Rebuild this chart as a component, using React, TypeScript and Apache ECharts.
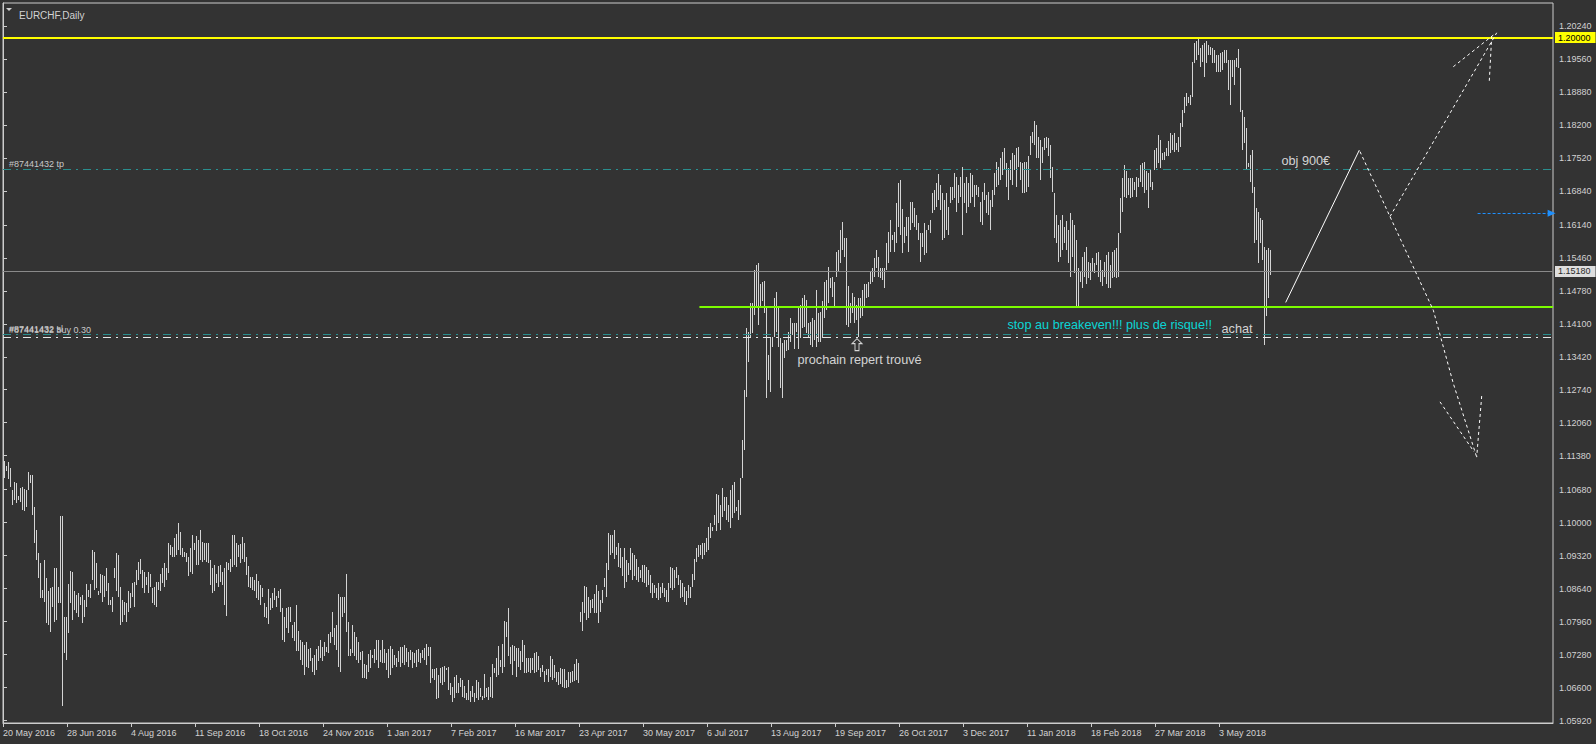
import React, { useEffect, useRef } from "react";
import * as echarts from "echarts";

// ---------- DATA ----------
// x-axis date labels, one every 32 daily bars
const dateTicks = [
  "20 May 2016", "28 Jun 2016", "4 Aug 2016", "11 Sep 2016", "18 Oct 2016", "24 Nov 2016",
  "1 Jan 2017", "7 Feb 2017", "16 Mar 2017", "23 Apr 2017", "30 May 2017", "6 Jul 2017",
  "13 Aug 2017", "19 Sep 2017", "26 Oct 2017", "3 Dec 2017", "11 Jan 2018", "18 Feb 2018",
  "27 Mar 2018", "3 May 2018",
];
const barsPerDateTick = 32;
const visibleSlots = 775;

// right price-scale labels
const priceTicks = [
  1.0592, 1.066, 1.0728, 1.0796, 1.0864, 1.0932, 1.1, 1.1068, 1.1138, 1.1206, 1.1274,
  1.1342, 1.141, 1.1478, 1.1546, 1.1614, 1.1684, 1.1752, 1.182, 1.1888, 1.1956, 1.2024,
];
const priceMin = 1.058685;
const priceMax = 1.207138;

// daily bars [high, low], May 2016 -> Dec 2016
const barsMay16 = [
  [1.1128,1.1093],[1.1117,1.1106],[1.1124,1.1090],[1.1113,1.1074],[1.1067,1.1036],[1.1084,1.1047],
  [1.1082,1.1041],[1.1055,1.1047],[1.1071,1.1043],[1.1074,1.1026],[1.1069,1.1023],[1.1067,1.1033],
  [1.1104,1.1067],[1.1098,1.1082],[1.1098,1.1016],[1.1033,1.0957],[1.0985,1.0923],[1.0937,1.0886],
  [1.0916,1.0845],[1.0861,1.0845],[1.0923,1.0837],[1.0886,1.0793],[1.0858,1.0789],[1.0865,1.0775],
  [1.0868,1.0827],[1.0906,1.0796],[1.0906,1.0799],[1.0868,1.0834],[1.1014,1.0834],[1.1014,1.0622],
  [1.0806,1.0731],[1.0806,1.0717],[1.0874,1.0772],[1.0901,1.0834],[1.0899,1.0799],[1.0860,1.0820],
  [1.0851,1.0814],[1.0855,1.0806],[1.0847,1.0830],[1.0851,1.0793],[1.0841,1.0806],[1.0874,1.0827],
  [1.0861,1.0847],[1.0874,1.0845],[1.0944,1.0882],[1.0940,1.0861],[1.0916,1.0865],[1.0858,1.0851],
  [1.0894,1.0854],[1.0892,1.0837],[1.0890,1.0847],[1.0906,1.0858],[1.0875,1.0830],[1.0841,1.0830],
  [1.0847,1.0816],[1.0906,1.0885],[1.0938,1.0858],[1.0933,1.0847],[1.0868,1.0788],[1.0841,1.0796],
  [1.0837,1.0810],[1.0835,1.0795],[1.0858,1.0816],[1.0854,1.0823],[1.0875,1.0847],[1.0878,1.0827],
  [1.0902,1.0871],[1.0919,1.0882],[1.0924,1.0895],[1.0902,1.0865],[1.0899,1.0854],[1.0888,1.0871],
  [1.0899,1.0854],[1.0895,1.0868],[1.0865,1.0834],[1.0868,1.0830],[1.0878,1.0827],[1.0878,1.0861],
  [1.0895,1.0858],[1.0906,1.0875],[1.0916,1.0868],[1.0906,1.0882],[1.0957,1.0897],[1.0954,1.0933],
  [1.0950,1.0930],[1.0968,1.0930],[1.0976,1.0933],[1.0999,1.0944],[1.0981,1.0933],[1.0947,1.0930],
  [1.0940,1.0930],[1.0937,1.0919],[1.0930,1.0889],[1.0947,1.0899],[1.0975,1.0895],[1.0957,1.0944],
  [1.0972,1.0913],[1.0964,1.0913],[1.0985,1.0923],[1.0961,1.0919],[1.0957,1.0923],[1.0957,1.0919],
  [1.0957,1.0916],[1.0923,1.0871],[1.0906,1.0854],[1.0913,1.0858],[1.0895,1.0875],[1.0911,1.0868],
  [1.0913,1.0878],[1.0899,1.0871],[1.0906,1.0830],[1.0919,1.0807],[1.0916,1.0902],[1.0926,1.0899],
  [1.0975,1.0909],[1.0975,1.0913],[1.0957,1.0909],[1.0954,1.0930],[1.0956,1.0916],[1.0971,1.0926],
  [1.0957,1.0919],[1.0930,1.0892],[1.0911,1.0868],[1.0888,1.0865],[1.0887,1.0861],[1.0882,1.0858],
  [1.0894,1.0844],[1.0880,1.0841],[1.0871,1.0830],[1.0865,1.0847],[1.0834,1.0806],[1.0827,1.0803],
  [1.0863,1.0792],[1.0844,1.0820],[1.0854,1.0823],[1.0865,1.0841],[1.0849,1.0827],[1.0858,1.0844],
  [1.0863,1.0816],[1.0823,1.0758],[1.0806,1.0753],[1.0823,1.0782],[1.0825,1.0772],[1.0827,1.0796],
  [1.0789,1.0762],[1.0796,1.0755],[1.0830,1.0736],
];

// daily bars [high, low], Dec 2016 -> Apr 2017 (before the election gap)
const barsDec16 = [
  [1.0777,1.0736],[1.0759,1.0717],[1.0754,1.0706],[1.0748,1.0686],[1.0754,1.0703],[1.0739,1.0700],
  [1.0741,1.0714],[1.0720,1.0693],[1.0727,1.0686],[1.0739,1.0696],[1.0746,1.0714],[1.0758,1.0720],
  [1.0744,1.0714],[1.0754,1.0724],[1.0744,1.0734],[1.0770,1.0731],[1.0775,1.0751],[1.0816,1.0765],
  [1.0782,1.0748],[1.0789,1.0737],[1.0853,1.0703],[1.0847,1.0693],[1.0847,1.0806],[1.0847,1.0813],
  [1.0895,1.0775],[1.0796,1.0724],[1.0739,1.0725],[1.0789,1.0731],[1.0775,1.0724],[1.0765,1.0717],
  [1.0754,1.0710],[1.0734,1.0717],[1.0736,1.0679],[1.0709,1.0679],[1.0707,1.0677],[1.0729,1.0693],
  [1.0737,1.0700],[1.0727,1.0720],[1.0739,1.0710],[1.0759,1.0717],[1.0759,1.0700],[1.0737,1.0713],
  [1.0759,1.0710],[1.0739,1.0710],[1.0731,1.0696],[1.0739,1.0679],[1.0746,1.0686],[1.0739,1.0700],
  [1.0727,1.0706],[1.0720,1.0703],[1.0736,1.0713],[1.0744,1.0703],[1.0743,1.0710],[1.0748,1.0706],
  [1.0741,1.0713],[1.0734,1.0703],[1.0737,1.0717],[1.0734,1.0700],[1.0731,1.0710],[1.0737,1.0703],
  [1.0739,1.0713],[1.0731,1.0710],[1.0737,1.0720],[1.0741,1.0717],[1.0750,1.0706],[1.0743,1.0724],
  [1.0743,1.0669],[1.0698,1.0679],[1.0698,1.0676],[1.0700,1.0636],[1.0686,1.0638],[1.0700,1.0669],
  [1.0703,1.0665],[1.0704,1.0672],[1.0700,1.0696],[1.0703,1.0655],[1.0669,1.0645],[1.0662,1.0631],
  [1.0682,1.0638],[1.0686,1.0648],[1.0669,1.0648],[1.0679,1.0662],[1.0676,1.0641],[1.0663,1.0638],
  [1.0648,1.0634],[1.0676,1.0634],[1.0653,1.0631],[1.0663,1.0641],[1.0648,1.0631],[1.0676,1.0638],
  [1.0672,1.0634],[1.0658,1.0641],[1.0643,1.0634],[1.0688,1.0638],[1.0658,1.0641],[1.0662,1.0634],
  [1.0682,1.0641],[1.0709,1.0638],[1.0701,1.0690],[1.0720,1.0682],[1.0746,1.0686],[1.0717,1.0703],
  [1.0750,1.0689],[1.0798,1.0702],[1.0796,1.0765],[1.0823,1.0724],[1.0744,1.0709],[1.0748,1.0686],
  [1.0746,1.0714],[1.0741,1.0682],[1.0741,1.0703],[1.0736,1.0696],[1.0759,1.0713],[1.0748,1.0689],
  [1.0720,1.0689],[1.0720,1.0693],[1.0720,1.0689],[1.0720,1.0696],[1.0731,1.0689],[1.0734,1.0693],
  [1.0725,1.0696],[1.0700,1.0682],[1.0707,1.0693],[1.0695,1.0672],[1.0698,1.0686],[1.0698,1.0672],
  [1.0725,1.0682],[1.0718,1.0676],[1.0707,1.0679],[1.0693,1.0672],[1.0693,1.0665],[1.0700,1.0667],
  [1.0698,1.0662],[1.0698,1.0658],[1.0676,1.0658],[1.0693,1.0661],[1.0693,1.0669],[1.0695,1.0672],
  [1.0709,1.0674],[1.0718,1.0676],[1.0711,1.0669],
];

// daily bars [high, low], Apr 2017 -> Nov 2017
const barsApr17 = [
  [1.0816,1.0796],[1.0836,1.0777],[1.0869,1.0813],[1.0868,1.0799],[1.0847,1.0803],[1.0841,1.0813],
  [1.0842,1.0823],[1.0853,1.0813],[1.0871,1.0813],[1.0858,1.0793],[1.0841,1.0816],
  [1.0861,1.0834],[1.0885,1.0868],[1.0916,1.0847],[1.0978,1.0902],[1.0975,1.0933],[1.0975,1.0937],
  [1.0985,1.0926],[1.0950,1.0933],[1.0957,1.0909],[1.0947,1.0906],[1.0930,1.0889],[1.0947,1.0865],
  [1.0923,1.0878],[1.0916,1.0892],[1.0947,1.0902],[1.0937,1.0882],[1.0933,1.0889],[1.0926,1.0882],
  [1.0909,1.0878],[1.0902,1.0885],[1.0913,1.0878],[1.0913,1.0875],[1.0909,1.0868],[1.0902,1.0871],
  [1.0892,1.0854],[1.0875,1.0844],[1.0871,1.0854],[1.0865,1.0844],[1.0875,1.0841],[1.0868,1.0844],
  [1.0875,1.0854],[1.0865,1.0847],[1.0861,1.0837],[1.0875,1.0837],[1.0909,1.0865],[1.0906,1.0861],
  [1.0902,1.0865],[1.0909,1.0885],[1.0892,1.0871],[1.0882,1.0844],[1.0875,1.0847],[1.0868,1.0837],
  [1.0858,1.0830],[1.0871,1.0844],[1.0868,1.0844],[1.0895,1.0868],[1.0926,1.0882],[1.0947,1.0919],
  [1.0954,1.0930],[1.0954,1.0933],[1.0957,1.0926],[1.0957,1.0933],[1.0968,1.0940],[1.0992,1.0944],
  [1.0999,1.0968],[1.0992,1.0982],[1.1016,1.0995],[1.1060,1.0982],[1.1057,1.0999],[1.1036,1.0985],
  [1.1071,1.1012],[1.1053,1.1023],[1.1053,1.1006],[1.1036,1.1002],[1.1067,1.0988],[1.1078,1.1009],
  [1.1084,1.1019],[1.1033,1.1023],[1.1047,1.1006],[1.1091,1.1016],[1.1170,1.1091],[1.1274,1.1150],
  [1.1401,1.1260],[1.1394,1.1332],[1.1452,1.1380],[1.1452,1.1390],[1.1521,1.1428],[1.1531,1.1445],
  [1.1535,1.1408],[1.1493,1.1445],[1.1497,1.1456],[1.1498,1.1432],[1.1442,1.1256],[1.1346,1.1294],
  [1.1383,1.1270],[1.1383,1.1363],[1.1463,1.1383],[1.1476,1.1394],[1.1442,1.1363],[1.1380,1.1277],
  [1.1370,1.1256],[1.1377,1.1339],[1.1377,1.1353],[1.1394,1.1356],[1.1421,1.1373],[1.1411,1.1387],
  [1.1411,1.1359],[1.1411,1.1394],[1.1445,1.1359],[1.1449,1.1380],[1.1463,1.1401],[1.1469,1.1404],
  [1.1459,1.1390],[1.1411,1.1383],[1.1414,1.1366],[1.1421,1.1363],[1.1418,1.1377],[1.1480,1.1363],
  [1.1432,1.1373],[1.1435,1.1373],[1.1456,1.1380],[1.1497,1.1421],[1.1500,1.1439],[1.1528,1.1452],
  [1.1504,1.1483],[1.1507,1.1466],[1.1497,1.1445],[1.1559,1.1507],[1.1562,1.1517],[1.1603,1.1535],
  [1.1620,1.1562],[1.1586,1.1548],[1.1586,1.1408],[1.1487,1.1404],[1.1452,1.1411],[1.1473,1.1432],
  [1.1466,1.1411],[1.1449,1.1418],[1.1463,1.1383],[1.1463,1.1421],[1.1480,1.1425],[1.1493,1.1445],
  [1.1493,1.1463],[1.1497,1.1466],[1.1517,1.1493],[1.1524,1.1497],[1.1545,1.1507],[1.1562,1.1524],
  [1.1548,1.1507],[1.1524,1.1504],[1.1524,1.1500],[1.1524,1.1483],[1.1576,1.1521],[1.1600,1.1535],
  [1.1624,1.1559],
];

// daily bars [high, low], Nov 2017 -> Jun 2018
const barsNov17 = [
  [1.1593,1.1583],[1.1600,1.1559],[1.1658,1.1576],[1.1700,1.1610],[1.1706,1.1593],[1.1646,1.1555],
  [1.1610,1.1576],[1.1631,1.1590],[1.1631,1.1559],[1.1662,1.1603],[1.1662,1.1617],[1.1648,1.1610],
  [1.1634,1.1603],[1.1617,1.1583],[1.1597,1.1538],[1.1597,1.1569],[1.1617,1.1552],[1.1603,1.1555],
  [1.1614,1.1603],[1.1624,1.1597],[1.1679,1.1638],[1.1686,1.1645],[1.1700,1.1651],[1.1719,1.1665],
  [1.1696,1.1645],[1.1679,1.1583],[1.1665,1.1586],[1.1679,1.1603],[1.1651,1.1593],[1.1693,1.1658],
  [1.1693,1.1665],[1.1720,1.1669],[1.1713,1.1641],[1.1696,1.1658],[1.1713,1.1672],[1.1734,1.1593],
  [1.1700,1.1658],[1.1713,1.1638],[1.1700,1.1651],[1.1720,1.1658],[1.1717,1.1672],[1.1696,1.1651],
  [1.1696,1.1676],[1.1693,1.1672],[1.1662,1.1620],[1.1682,1.1614],[1.1700,1.1665],[1.1676,1.1638],
  [1.1682,1.1634],[1.1665,1.1603],[1.1686,1.1651],[1.1720,1.1676],[1.1744,1.1693],[1.1734,1.1696],
  [1.1751,1.1706],[1.1765,1.1717],[1.1772,1.1727],[1.1741,1.1693],[1.1731,1.1665],[1.1748,1.1706],
  [1.1762,1.1696],[1.1758,1.1727],[1.1772,1.1693],[1.1775,1.1734],[1.1744,1.1706],[1.1741,1.1679],
  [1.1744,1.1679],[1.1744,1.1682],[1.1755,1.1693],[1.1797,1.1758],[1.1806,1.1782],[1.1829,1.1779],
  [1.1820,1.1751],[1.1796,1.1751],[1.1789,1.1706],[1.1775,1.1741],[1.1793,1.1768],[1.1796,1.1772],
  [1.1793,1.1755],[1.1779,1.1710],[1.1734,1.1682],[1.1679,1.1586],[1.1634,1.1576],[1.1614,1.1538],
  [1.1624,1.1548],[1.1634,1.1562],[1.1610,1.1576],[1.1621,1.1562],[1.1603,1.1535],[1.1638,1.1507],
  [1.1624,1.1548],[1.1614,1.1514],[1.1583,1.1445],[1.1524,1.1445],[1.1517,1.1497],[1.1548,1.1483],
  [1.1559,1.1507],[1.1569,1.1493],[1.1538,1.1504],[1.1535,1.1500],[1.1545,1.1517],[1.1535,1.1514],
  [1.1555,1.1531],[1.1559,1.1507],[1.1542,1.1497],[1.1521,1.1487],[1.1538,1.1507],[1.1552,1.1493],
  [1.1559,1.1483],[1.1531,1.1483],[1.1559,1.1504],[1.1562,1.1507],[1.1566,1.1504],[1.1597,1.1507],
  [1.1669,1.1597],[1.1710,1.1641],[1.1737,1.1672],[1.1724,1.1669],[1.1710,1.1676],[1.1710,1.1669],
  [1.1710,1.1672],[1.1703,1.1686],[1.1713,1.1672],[1.1710,1.1693],[1.1737,1.1703],[1.1741,1.1693],
  [1.1744,1.1679],[1.1724,1.1686],[1.1720,1.1648],[1.1727,1.1693],[1.1703,1.1686],[1.1768,1.1727],
  [1.1772,1.1731],[1.1799,1.1741],[1.1789,1.1731],[1.1762,1.1748],[1.1765,1.1748],[1.1772,1.1755],
  [1.1786,1.1755],[1.1803,1.1762],[1.1799,1.1768],[1.1803,1.1765],[1.1782,1.1768],[1.1796,1.1765],
  [1.1823,1.1775],[1.1851,1.1816],[1.1878,1.1844],[1.1885,1.1858],[1.1878,1.1865],[1.1882,1.1861],
  [1.1950,1.1878],[1.1988,1.1947],[1.1992,1.1954],[1.2002,1.1964],[1.1978,1.1940],[1.1985,1.1950],
  [1.1988,1.1919],[1.1992,1.1947],[1.1985,1.1964],[1.1981,1.1964],[1.1978,1.1947],[1.1975,1.1947],
  [1.1964,1.1930],[1.1964,1.1930],[1.1968,1.1930],[1.1971,1.1933],[1.1975,1.1947],[1.1975,1.1947],
  [1.1954,1.1892],[1.1954,1.1861],[1.1954,1.1919],[1.1954,1.1902],[1.1957,1.1940],[1.1977,1.1937],
  [1.1937,1.1847],[1.1851,1.1768],[1.1837,1.1782],[1.1813,1.1727],[1.1741,1.1734],[1.1758,1.1703],
  [1.1768,1.1679],[1.1693,1.1576],[1.1648,1.1583],[1.1641,1.1535],[1.1628,1.1576],[1.1624,1.1542],
  [1.1569,1.1366],[1.1562,1.1425],[1.1566,1.1463],[1.1562,1.1511],
];

// horizontal levels
const resistanceLevel = 1.2;
const lastPrice = 1.1518;
const takeProfit = 1.1729;
const stopLoss = 1.1389;
const buyPrice = 1.1383;
const breakevenLevel = 1.1445;
const breakevenStartBar = 348.2;

// drawn objects, in [bar, price]
const objLine = [[641.35, 1.1454], [678.15, 1.1768]];
const downPath = [[678.5, 1.1765], [693.5, 1.1631], [715.15, 1.1438], [725.15, 1.1287], [736.85, 1.1135]];
const downHeadLeft = [[718.5, 1.1249], [735.5, 1.1146]];
const downHeadRight = [[739.35, 1.1261], [736.85, 1.1135]];
const upPath = [[693.5, 1.1631], [746.85, 1.201]];
const upHeadLeft = [[725.15, 1.194], [746.0, 1.2008]];
const upHeadRight = [[743.15, 1.1911], [744.35, 1.2002]];
const blueArrow = [[737.3, 1.1638], [774.3, 1.1638]];

// text notes [bar, price, text, colour]
const notes: [number, number, string, string][] = [
  [639, 1.1746, "obj 900€", "#ffffff"],
  [397, 1.1335, "prochain repert trouvé", "#ffffff"],
  [502, 1.1408, "stop au breakeven!!! plus de risque!!", "#00ffff"],
  [609, 1.1399, "achat", "#ffffff"],
];
const upArrowMark = [427, 1.1367];

// ---------- CHART ----------
const FONT = '"Liberation Sans", Arial, sans-serif';
const AXIS = "#cdcdcd";
const TXT = "#d2d2d2";

export default function App() {
  const ref = useRef<HTMLDivElement>(null);

  useEffect(() => {
    if (!ref.current) return;
    const chart = echarts.init(ref.current, undefined, { renderer: "svg" });

    const allBars = [...barsMay16, ...barsDec16, ...barsApr17, ...barsNov17];
    const barData = allBars.map((b, i) => [i + 0.5, b[0], b[1]]);
    const tickIdx = dateTicks.map((_, k) => k * barsPerDateTick);

    const dotted = (data: number[][], type: any = [3, 3]) => ({
      type: "line",
      data,
      showSymbol: false,
      silent: true,
      z: 5,
      lineStyle: { color: "#ffffff", width: 1, type },
    });

    const option: any = {
      animation: false,
      backgroundColor: "#333333",
      title: {
        text: "EURCHF,Daily",
        left: 14,
        top: 5,
        textStyle: { color: TXT, fontSize: 10, fontWeight: "normal", fontFamily: FONT },
      },
      graphic: [
        { type: "polygon", shape: { points: [[6, 8], [12, 8], [9, 11]] }, style: { fill: TXT } },
      ],
      grid: {
        left: 3, right: 43, top: 3, bottom: 21,
        show: true, borderColor: AXIS, borderWidth: 1, backgroundColor: "transparent",
      },
      xAxis: {
        type: "value",
        min: 0,
        max: visibleSlots,
        axisLine: { show: true, lineStyle: { color: AXIS } },
        axisTick: { show: true, customValues: tickIdx, length: 4, lineStyle: { color: AXIS } },
        axisLabel: {
          customValues: tickIdx,
          formatter: (v: number) => dateTicks[Math.round(v / barsPerDateTick)] ?? "",
          color: TXT, fontSize: 9, fontFamily: FONT, align: "left", margin: 5,
        },
        splitLine: { show: false },
      },
      yAxis: {
        type: "value",
        position: "right",
        min: priceMin,
        max: priceMax,
        axisLine: { show: true, lineStyle: { color: AXIS } },
        axisTick: { show: true, customValues: priceTicks, length: 4, lineStyle: { color: AXIS } },
        axisLabel: {
          customValues: priceTicks,
          formatter: (v: number) => v.toFixed(5),
          color: TXT, fontSize: 9, fontFamily: FONT, margin: 6,
        },
        splitLine: { show: false },
      },
      series: [
        {
          type: "custom",
          name: "EURCHF",
          data: barData,
          encode: { x: 0, y: [1, 2] },
          z: 2,
          silent: true,
          renderItem: (_p: any, api: any) => {
            const v = api.value(0);
            const top = api.coord([v, api.value(1)]);
            const bot = api.coord([v, api.value(2)]);
            const x = Math.round(top[0]) + 0.5;
            const y1 = Math.round(top[1]);
            const y2 = Math.max(Math.round(bot[1]), y1 + 1);
            return {
              type: "line",
              shape: { x1: x, y1, x2: x, y2 },
              style: { stroke: "#d4d4d4", lineWidth: 1 },
            };
          },
        },
        {
          type: "line",
          data: [],
          silent: true,
          z: 3,
          markLine: {
            silent: true,
            symbol: "none",
            precision: 5,
            animation: false,
            label: { show: false },
            data: [
              {
                yAxis: takeProfit,
                lineStyle: { color: "#2a8e8e", width: 1, type: [8, 5, 2, 5] },
                label: {
                  show: true, position: "insideStartTop", formatter: "#87441432 tp",
                  color: "#c8c8c8", fontSize: 9, fontFamily: FONT, distance: [6, 1],
                },
              },
              {
                yAxis: stopLoss,
                lineStyle: { color: "#2a8e8e", width: 1, type: [8, 5, 2, 5] },
                label: {
                  show: true, position: "insideStartTop", formatter: "#87441432 sl",
                  color: "#c8c8c8", fontSize: 9, fontFamily: FONT, distance: [6, 0],
                },
              },
              {
                yAxis: buyPrice,
                lineStyle: { color: "#e6e6e6", width: 1, type: [8, 5, 2, 5] },
                label: {
                  show: true, position: "insideStartTop", formatter: "#87441432 buy 0.30",
                  color: "#c8c8c8", fontSize: 9, fontFamily: FONT, distance: [6, 2],
                },
              },
              {
                yAxis: lastPrice,
                lineStyle: { color: "#8a8a8a", width: 1, type: "solid" },
                label: {
                  show: true, position: "end", formatter: lastPrice.toFixed(5),
                  color: "#2a2a2a", backgroundColor: "#dedede", fontSize: 9, fontFamily: FONT,
                  padding: [1, 5, 0, 3], lineHeight: 10, distance: 2,
                },
              },
              {
                yAxis: resistanceLevel,
                lineStyle: { color: "#ffff00", width: 2, type: "solid" },
                label: {
                  show: true, position: "end", formatter: resistanceLevel.toFixed(5),
                  color: "#000000", backgroundColor: "#ffff00", fontSize: 9, fontFamily: FONT,
                  padding: [1, 5, 0, 3], lineHeight: 10, distance: 2,
                },
              },
              [
                { coord: [breakevenStartBar, breakevenLevel] },
                { coord: [visibleSlots, breakevenLevel], lineStyle: { color: "#7cfc00", width: 2, type: "solid" } },
              ],
            ],
          },
        },
        {
          type: "line",
          data: [],
          silent: true,
          z: 3,
          markLine: {
            silent: true,
            symbol: ["none", "triangle"],
            symbolSize: [7, 8],
            precision: 5,
            animation: false,
            label: { show: false },
            lineStyle: { color: "#1e90ff", width: 1, type: [3, 2] },
            data: [[{ coord: blueArrow[0] }, { coord: blueArrow[1] }]],
          },
        },
        { ...dotted(objLine, "solid") },
        dotted(downPath),
        dotted(downHeadLeft),
        dotted(downHeadRight),
        dotted(upPath),
        dotted(upHeadLeft),
        dotted(upHeadRight),
        {
          type: "scatter",
          silent: true,
          z: 6,
          symbolSize: 1,
          itemStyle: { color: "rgba(0,0,0,0)" },
          data: notes.map(([v, p, t, c]) => ({
            value: [v, p],
            label: {
              show: true, position: "right", distance: 0, formatter: t,
              color: c, fontSize: 12.7, fontFamily: FONT,
            },
          })),
        },
        {
          type: "scatter",
          silent: true,
          z: 6,
          symbol: "path://M5,0 L10,5 L7,5 L7,12 L3,12 L3,5 L0,5 Z",
          symbolSize: [10, 12],
          itemStyle: { color: "#333333", borderColor: "#ffffff", borderWidth: 1 },
          data: [upArrowMark],
        },
      ],
    };

    chart.setOption(option);
    return () => chart.dispose();
  }, []);

  return (
    <div
      ref={ref}
      style={{ position: "fixed", left: 0, top: 0, width: 1596, height: 744 }}
    />
  );
}
